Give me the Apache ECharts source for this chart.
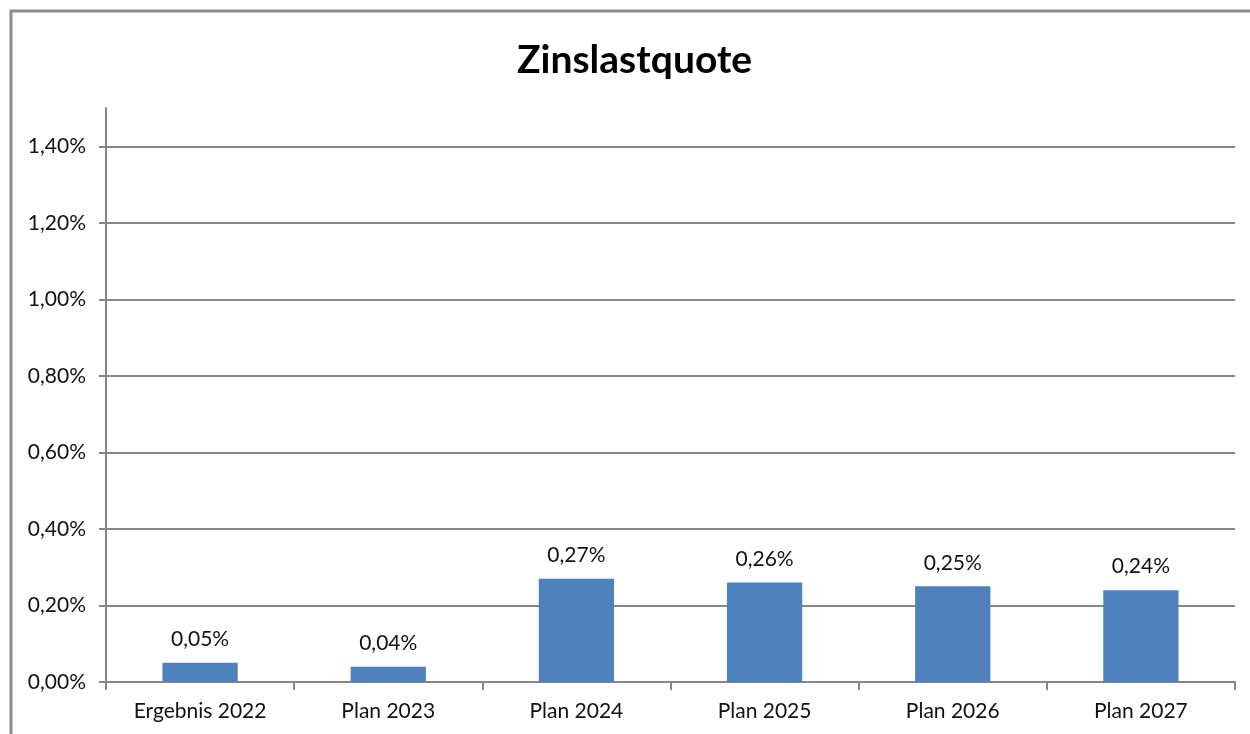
<!DOCTYPE html>
<html>
<head>
<meta charset="utf-8">
<title>Zinslastquote</title>
<script src="https://cdn.jsdelivr.net/npm/echarts@6/dist/echarts.min.js"></script>
<style>
  html, body { margin: 0; padding: 0; background: #fff; }
  #chart { width: 1250px; height: 734px; }
</style>
</head>
<body>
<div id="chart"></div>
<script>
// Kategorien und Werte (Prozent)
var categories = ['Ergebnis 2022', 'Plan 2023', 'Plan 2024', 'Plan 2025', 'Plan 2026', 'Plan 2027'];
var quote = [0.05, 0.04, 0.27, 0.26, 0.25, 0.24];
var yTicks = [0, 0.2, 0.4, 0.6, 0.8, 1.0, 1.2, 1.4];

var fontName = 'Lato';
var grey = '#868686';

function pct(v) {
  return v.toFixed(2).replace('.', ',') + '%';
}

var myChart = echarts.init(document.getElementById('chart'));

var option = {
  animation: false,
  backgroundColor: '#fff',
  title: {
    text: 'Zinslastquote',
    left: 512,
    top: 36,
    textStyle: { fontFamily: fontName, fontSize: 39, fontWeight: 'bold', color: '#000' }
  },
  graphic: [{
    type: 'rect',
    shape: { x: 11, y: 11, width: 1260, height: 760 },
    style: { fill: 'none', stroke: '#8c8c8c', lineWidth: 3 },
    silent: true
  }],
  grid: { left: 106, right: 15, top: 108, bottom: 52 },
  xAxis: {
    type: 'category',
    data: categories,
    axisLine: { lineStyle: { color: grey, width: 2 } },
    axisTick: { show: true, length: 8, lineStyle: { color: grey, width: 2 } },
    axisLabel: { fontFamily: fontName, fontSize: 21, color: '#111', margin: 19 }
  },
  yAxis: {
    type: 'value',
    min: 0,
    max: 1.5,
    interval: 0.2,
    axisLine: { show: true, lineStyle: { color: grey, width: 2 } },
    axisTick: { show: true, length: 7, customValues: yTicks, lineStyle: { color: grey, width: 2 } },
    axisLabel: {
      fontFamily: fontName, fontSize: 21, color: '#111', margin: 20,
      customValues: yTicks,
      formatter: function (v) { return pct(v); }
    },
    splitLine: {
      show: true,
      lineStyle: {
        color: [grey, grey, grey, grey, grey, grey, grey, grey, 'rgba(0,0,0,0)'],
        width: 2
      }
    }
  },
  series: [{
    name: 'Zinslastquote',
    type: 'bar',
    data: quote,
    barWidth: '40%',
    itemStyle: { color: '#4f81bd' },
    label: {
      show: true,
      position: 'top',
      distance: 13,
      fontFamily: fontName,
      fontSize: 21,
      color: '#111',
      formatter: function (p) { return pct(p.value); }
    }
  }]
};

myChart.setOption(option);
</script>
</body>
</html>
